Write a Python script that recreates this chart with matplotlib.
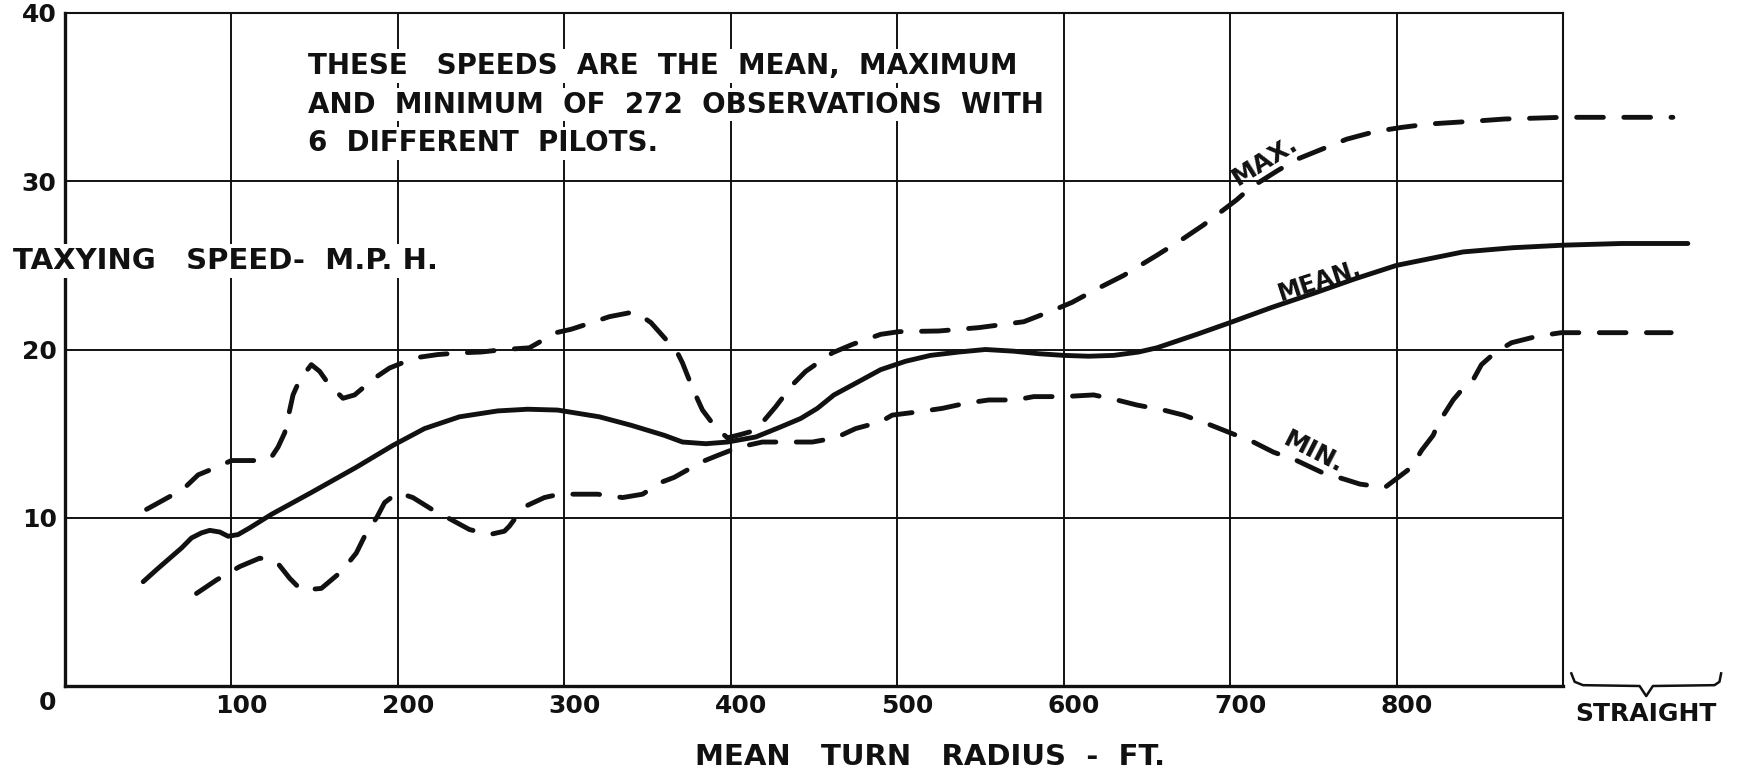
import numpy as np
import matplotlib.pyplot as plt
import matplotlib.transforms as mtransforms

'''
Data read off the chart (turn radius in ft, speed in m.p.h.)
'''
mean_x = [47, 56, 63, 70, 76, 82, 87, 93, 98, 104, 111, 124, 148, 175, 197, 216, 237, 260,
          278, 296, 321, 340, 360, 371, 385, 398, 415, 430, 442, 452, 462, 477, 490, 505,
          520, 537, 553, 570, 585, 600, 615, 630, 645, 656, 680, 700, 725, 752, 775, 800,
          820, 840, 870, 900, 935, 975]
mean_y = [6.2, 7.0, 7.6, 8.2, 8.8, 9.1, 9.25, 9.15, 8.9, 9.0, 9.4, 10.2, 11.5, 13.0, 14.3,
          15.3, 16.0, 16.35, 16.45, 16.4, 16.0, 15.5, 14.9, 14.5, 14.4, 14.5, 14.8, 15.4,
          15.9, 16.5, 17.3, 18.1, 18.8, 19.3, 19.65, 19.85, 20.0, 19.9, 19.75, 19.65, 19.6,
          19.65, 19.85, 20.1, 20.9, 21.6, 22.5, 23.4, 24.2, 25.0, 25.4, 25.8, 26.05, 26.2,
          26.3, 26.3]

max_x = [49, 60, 71, 80, 91, 100, 110, 118, 124, 128, 132, 137, 141, 148, 153, 158, 167,
         174, 186, 195, 210, 224, 237, 250, 264, 279, 295, 304, 318, 327, 340, 344, 352,
         361, 367, 371, 377, 383, 391, 398, 406, 415, 427, 437, 445, 461, 473, 490, 501,
         525, 549, 576, 593, 605, 620, 636, 646, 656, 672, 684, 696, 704, 712, 728, 740,
         755, 770, 787, 803, 819, 835, 851, 865, 883, 899, 930, 966]
max_y = [10.5, 11.1, 11.7, 12.55, 13.0, 13.4, 13.4, 13.4, 13.6, 14.2, 15.05, 17.3, 18.2,
         19.1, 18.7, 18.0, 17.1, 17.3, 18.3, 18.9, 19.5, 19.7, 19.8, 19.85, 20.0, 20.1,
         21.0, 21.2, 21.65, 21.95, 22.2, 22.15, 21.6, 20.6, 20.0, 19.2, 17.7, 16.4, 15.35,
         14.75, 14.95, 15.2, 16.6, 17.9, 18.7, 19.8, 20.3, 20.9, 21.06, 21.1, 21.3, 21.65,
         22.3, 22.8, 23.6, 24.4, 25.0, 25.6, 26.6, 27.4, 28.3, 28.9, 29.6, 30.6, 31.3,
         31.9, 32.5, 32.95, 33.2, 33.4, 33.5, 33.6, 33.7, 33.75, 33.8, 33.8, 33.8]

min_x = [79, 91, 105, 117, 127, 135, 142, 154, 166, 175, 180, 187.5, 192, 200, 209, 222,
         229, 243, 255, 264, 267, 273, 276, 288, 297, 311, 320, 335, 347, 358, 366, 375,
         382, 392, 405, 419, 434, 449, 463, 475, 490, 497, 513, 527, 541, 555, 571, 582,
         600, 618, 632, 644, 660, 672, 686, 700, 714, 726, 740, 755, 770, 778, 793, 797,
         809, 815, 822, 825, 834, 840, 846, 851, 859, 869, 885, 899, 930, 965]
min_y = [5.5, 6.3, 7.1, 7.6, 7.4, 6.4, 5.7, 5.8, 6.8, 7.9, 8.9, 10.05, 10.9, 11.5, 11.2,
         10.4, 10.05, 9.3, 9.0, 9.2, 9.5, 10.3, 10.65, 11.2, 11.4, 11.4, 11.4, 11.2, 11.4,
         12.1, 12.4, 12.9, 13.3, 13.7, 14.2, 14.5, 14.5, 14.5, 14.75, 15.3, 15.7, 16.1,
         16.3, 16.5, 16.8, 17.0, 17.0, 17.2, 17.2, 17.3, 17.0, 16.7, 16.4, 16.1, 15.6,
         15.05, 14.5, 13.9, 13.4, 12.7, 12.25, 12.0, 11.8, 12.1, 13.0, 14.0, 14.9, 15.6,
         17.0, 17.7, 18.2, 19.1, 19.8, 20.4, 20.8, 21.0, 21.0, 21.0]

x_ticks = [100, 200, 300, 400, 500, 600, 700, 800]
y_ticks = [0, 10, 20, 30, 40]
straight_range = (905, 995)

note_lines = ['THESE   SPEEDS  ARE  THE  MEAN,  MAXIMUM',
              'AND  MINIMUM  OF  272  OBSERVATIONS  WITH',
              '6  DIFFERENT  PILOTS.']

'''
Plot
'''
plt.rcParams['font.family'] = ['DejaVu Sans']
plt.rcParams['font.weight'] = 'bold'
INK = '#111111'

fig = plt.figure(figsize=(17.38, 7.73), dpi=100)
ax = fig.add_axes([65 / 1738, 1 - 686 / 773, 1498 / 1738, 673 / 773])
ax.set_xlim(0, 900)
ax.set_ylim(0, 40)

# grid
for xv in x_ticks:
    ax.axvline(xv, color=INK, lw=1.4, zorder=1)
for yv in y_ticks[1:-1]:
    ax.axhline(yv, color=INK, lw=1.4, zorder=1)
for side in ['left', 'bottom']:
    ax.spines[side].set_linewidth(2.4)
for side in ['top', 'right']:
    ax.spines[side].set_linewidth(1.5)
for s in ax.spines.values():
    s.set_color(INK)

# ticks
ax.set_xticks(x_ticks)
ax.set_xticklabels([str(v) for v in x_ticks])
ax.set_yticks(y_ticks)
ax.set_yticklabels([str(v) for v in y_ticks])
ax.tick_params(length=0, labelsize=18, pad=6, labelcolor=INK)
shift = mtransforms.ScaledTranslation(0.10, 0, fig.dpi_scale_trans)
for lab in ax.get_xticklabels():
    lab.set_transform(lab.get_transform() + shift)
down = mtransforms.ScaledTranslation(0, -0.15, fig.dpi_scale_trans)
ylabs = ax.get_yticklabels()
ylabs[0].set_transform(ylabs[0].get_transform() + down)

# curves
dash = (0, (5.5, 4.2))
ax.plot(mean_x, mean_y, color=INK, lw=3.5, solid_capstyle='round', clip_on=False, zorder=4)
ax.plot(max_x, max_y, color=INK, lw=3.5, linestyle=dash, dash_capstyle='round',
        clip_on=False, zorder=4)
ax.plot(min_x, min_y, color=INK, lw=3.5, linestyle=dash, dash_capstyle='round',
        clip_on=False, zorder=4)

# curve labels
ax.text(721, 31.2, 'MAX.', rotation=32, fontsize=18, ha='center', va='center', color=INK)
ax.text(754, 24.1, 'MEAN.', rotation=18, fontsize=17, ha='center', va='center', color=INK)
ax.text(750, 13.9, 'MIN.', rotation=-27, fontsize=18, ha='center', va='center', color=INK)

# note
box = dict(facecolor='white', edgecolor='none', pad=2)
for i, line in enumerate(note_lines):
    ax.text(146, 36.85 - i * 2.3, line, fontsize=20, ha='left', va='center',
            color=INK, bbox=box, zorder=2)

# axis titles
ax.text(-31, 25.25, 'TAXYING   SPEED-  M.P. H.', fontsize=21, ha='left', va='center',
        color=INK, bbox=box, zorder=5)
ax.text(520, -4.2, 'MEAN   TURN   RADIUS  -  FT.', fontsize=21, ha='center', va='center',
        color=INK)

# "straight" brace beyond the last grid line
x0, x1 = straight_range
xm = (x0 + x1) / 2
bx = [x0, x0 + 2, x0 + 7, xm - 4, xm, xm + 4, x1 - 4, x1 - 1, x1]
by = [0.75, 0.25, 0.05, 0.0, -0.6, 0.0, 0.05, 0.25, 0.75]
ax.plot(bx, by, color=INK, lw=1.8, clip_on=False, zorder=4)
ax.text(xm, -1.66, 'STRAIGHT', fontsize=18, ha='center', va='center', color=INK)

fig.savefig('out.png', dpi=100, facecolor='white')
